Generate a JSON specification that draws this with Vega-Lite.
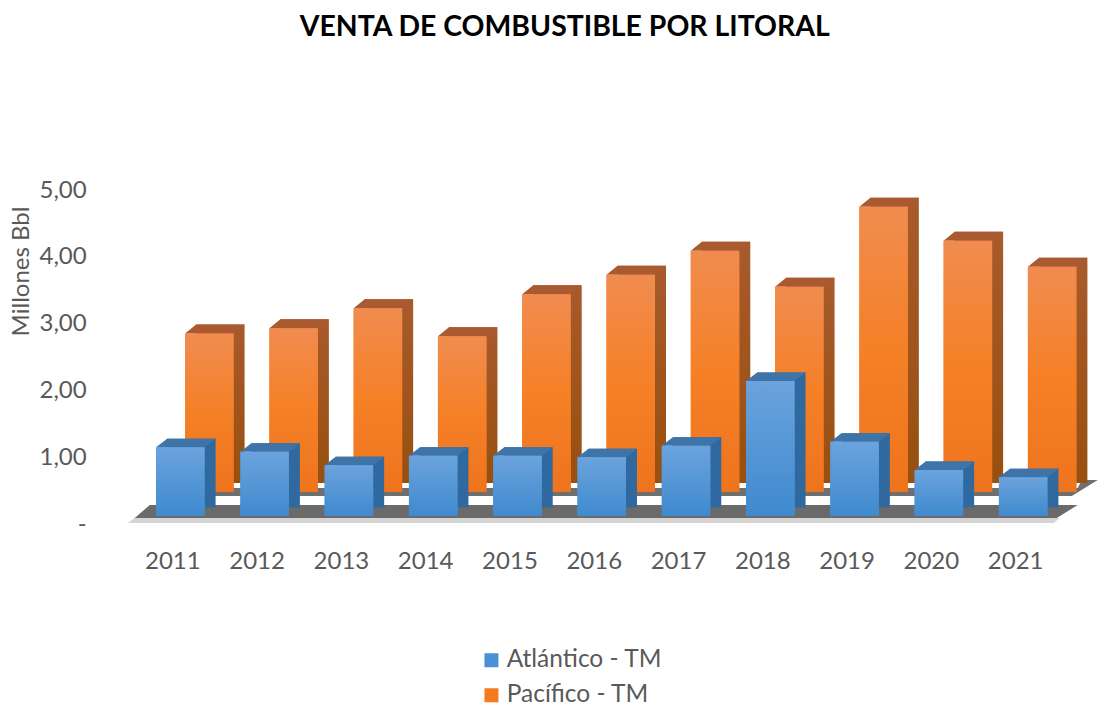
{
"$schema":"https://vega.github.io/schema/vega-lite/v6.json",
"autosize":{"type":"none"},
"padding":{"left":138.2,"top":188,"right":36.7,"bottom":187},
"width":927.1,"height":334,
"background":"white",
"config":{"view":{"stroke":null},"font":"Lato"},
"title":{"text":"VENTA DE COMBUSTIBLE POR LITORAL","font":"Lato","fontWeight":"bold","fontSize":28.4,"color":"#000000","anchor":"middle","frame":"group","dx":-37,"offset":136},
"data":{"values":[
{"year":"2011","serie":"Atlántico - TM","value":1.12},{"year":"2012","serie":"Atlántico - TM","value":1.05},{"year":"2013","serie":"Atlántico - TM","value":0.85},{"year":"2014","serie":"Atlántico - TM","value":0.99},{"year":"2015","serie":"Atlántico - TM","value":0.99},{"year":"2016","serie":"Atlántico - TM","value":0.97},{"year":"2017","serie":"Atlántico - TM","value":1.14},{"year":"2018","serie":"Atlántico - TM","value":2.11},{"year":"2019","serie":"Atlántico - TM","value":1.20},{"year":"2020","serie":"Atlántico - TM","value":0.78},{"year":"2021","serie":"Atlántico - TM","value":0.67},
{"year":"2011","serie":"Pacífico - TM","value":2.82},{"year":"2012","serie":"Pacífico - TM","value":2.90},{"year":"2013","serie":"Pacífico - TM","value":3.20},{"year":"2014","serie":"Pacífico - TM","value":2.78},{"year":"2015","serie":"Pacífico - TM","value":3.41},{"year":"2016","serie":"Pacífico - TM","value":3.70},{"year":"2017","serie":"Pacífico - TM","value":4.06},{"year":"2018","serie":"Pacífico - TM","value":3.52},{"year":"2019","serie":"Pacífico - TM","value":4.72},{"year":"2020","serie":"Pacífico - TM","value":4.21},{"year":"2021","serie":"Pacífico - TM","value":3.82}
]},
"encoding":{
"x":{"field":"year","type":"nominal","sort":null,"title":null,"scale":{"domain":["2011","2012","2013","2014","2015","2016","2017","2018","2019","2020","2021"],"paddingInner":0,"paddingOuter":0},"axis":{"domain":false,"ticks":false,"grid":false,"labelAngle":0,"labelFont":"Lato","labelFontSize":24,"labelColor":"#595959","labelPadding":27,"labelOffset":-7.5}},
"y":{"field":"value","type":"quantitative","title":"Millones Bbl","scale":{"domain":[0,5],"nice":false},"axis":{"domain":false,"ticks":false,"grid":false,"values":[0,1,2,3,4,5],"labelFont":"Lato","labelFontSize":24,"labelColor":"#595959","labelPadding":52,"labelOffset":2,"labelExpr":"datum.value==0?'-':replace(format(datum.value,'.2f'),'.',',')","titleFont":"Lato","titleFontSize":24,"titleFontWeight":"normal","titleColor":"#595959","titleX":-105,"titleY":83,"titleLimit":200}}
},
"layer":[
{"data":{"values":[{"year":"2016","value":0.45}]},"mark":{"type":"point","filled":true,"size":4,"opacity":1,"stroke":null,"fill":"#6f6f6f","shape":"M-432 4L470 4L496 -12L480 -12L476 -4L-432 -4Z"}},
{"data":{"values":[{"year":"2016","value":0}]},"mark":{"type":"point","filled":true,"size":4,"opacity":1,"stroke":null,"fill":"#d4d4d4","shape":"M-474 1L452 1L458 -4L-467 -4Z"}},
{"data":{"values":[{"year":"2016","value":0}]},"mark":{"type":"point","filled":true,"size":4,"opacity":1,"stroke":null,"fill":"#6a6a6a","shape":"M-467 -4L455 -4L476 -17L-452 -17Z"}},
{"transform":[{"filter":"datum.serie=='Pacífico - TM'"}],"mark":{"type":"bar","size":48.5,"xOffset":40,"yOffset":-9,"y2Offset":-9,"fill":{"gradient":"linear","x1":0,"y1":0,"x2":0,"y2":1,"stops":[{"offset":0,"color":"#a85a2c"},{"offset":1,"color":"#97500f"}]}},"encoding":{"y2":{"datum":0.45}}},
{"transform":[{"filter":"datum.serie=='Pacífico - TM'"}],"mark":{"type":"point","filled":true,"size":4,"opacity":1,"stroke":null,"fill":"#a95a30","xOffset":29,"shape":"M-24.25 0L-13.25 -9L35.25 -9L24.25 0Z"}},
{"transform":[{"filter":"datum.serie=='Pacífico - TM'"}],"mark":{"type":"bar","size":48.5,"xOffset":29},"encoding":{"y2":{"datum":0.45},"color":{"field":"serie","type":"nominal","scale":{"domain":["Atlántico - TM","Pacífico - TM"],"range":["#4a90d6","#f47a20"]},"legend":{"title":null,"orient":"none","legendX":341,"legendY":460,"symbolType":"square","symbolSize":196,"labelFont":"Lato","labelFontSize":24.5,"labelColor":"#595959","rowPadding":10,"labelOffset":3,"symbolStrokeWidth":0}}}},
{"transform":[{"filter":"datum.serie=='Pacífico - TM'"}],"mark":{"type":"bar","size":48.5,"xOffset":29,"fill":{"gradient":"linear","x1":0,"y1":0,"x2":0,"y2":1,"stops":[{"offset":0,"color":"#f08c50"},{"offset":0.5,"color":"#f58026"},{"offset":1,"color":"#ee741e"}]}},"encoding":{"y2":{"datum":0.45}}},
{"transform":[{"filter":"datum.serie=='Atlántico - TM'"}],"mark":{"type":"bar","size":48.5,"xOffset":11,"yOffset":-8.5,"y2Offset":-8.5,"fill":"#30699f"},"encoding":{"y2":{"datum":0.09}}},
{"transform":[{"filter":"datum.serie=='Atlántico - TM'"}],"mark":{"type":"point","filled":true,"size":4,"opacity":1,"stroke":null,"fill":"#3f74a8","shape":"M-24.25 0L-13.25 -8.5L35.25 -8.5L24.25 0Z"}},
{"transform":[{"filter":"datum.serie=='Atlántico - TM'"}],"mark":{"type":"bar","size":48.5},"encoding":{"y2":{"datum":0.09},"color":{"field":"serie","type":"nominal"}}},
{"transform":[{"filter":"datum.serie=='Atlántico - TM'"}],"mark":{"type":"bar","size":48.5,"fill":{"gradient":"linear","x1":0,"y1":0,"x2":0,"y2":1,"stops":[{"offset":0,"color":"#6ba3dd"},{"offset":1,"color":"#3f8ace"}]}},"encoding":{"y2":{"datum":0.09}}}
]
}
